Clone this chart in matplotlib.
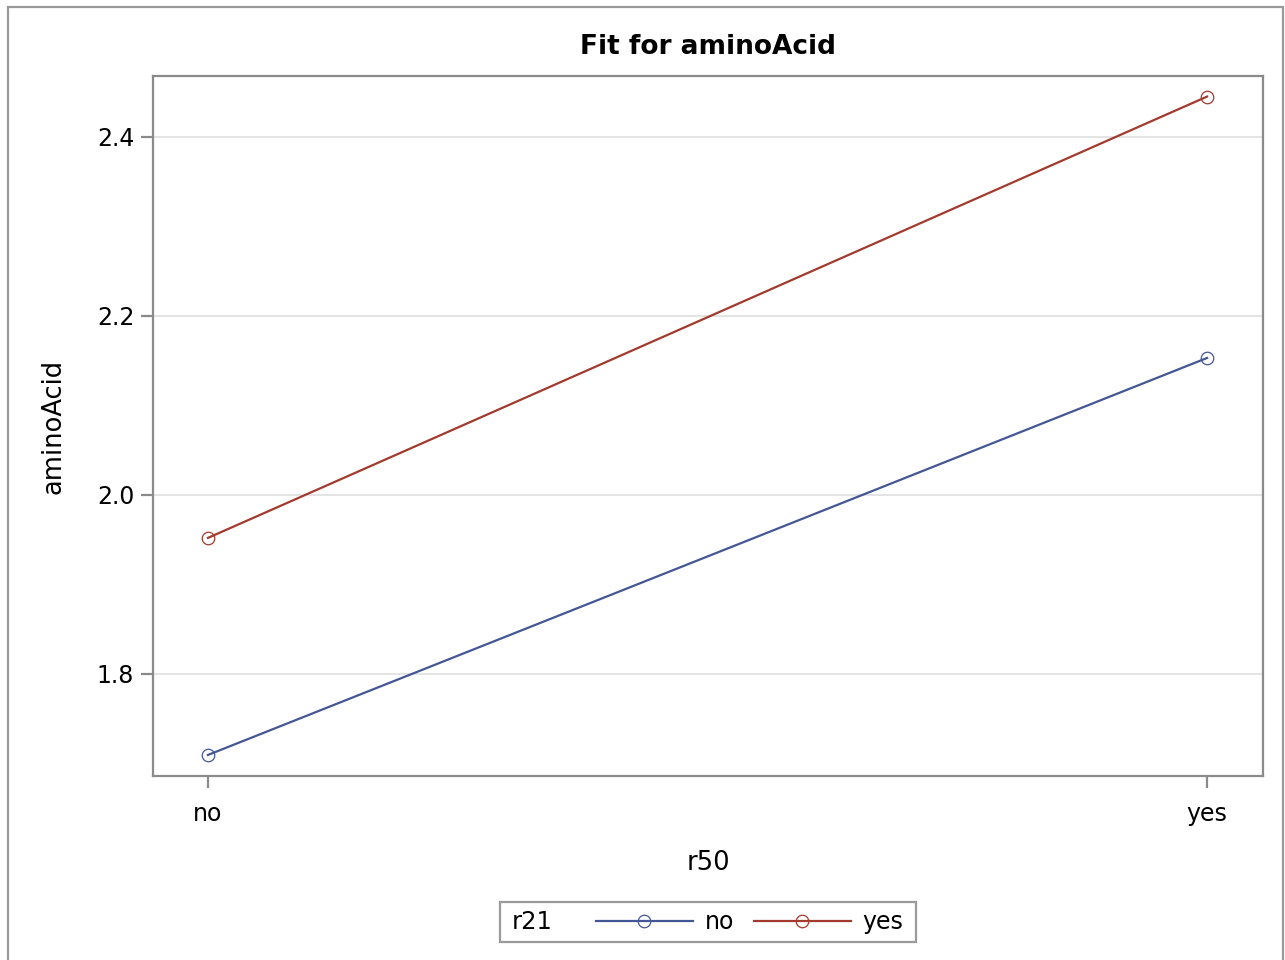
import matplotlib
matplotlib.use("Agg")
import matplotlib.pyplot as plt
from matplotlib.lines import Line2D
from matplotlib.patches import Rectangle

categories = ["no", "yes"]
series_names = ["no", "yes"]
values_no = [1.7095, 2.153]
values_yes = [1.952, 2.445]
yticks = [1.8, 2.0, 2.2, 2.4]
colors = ["#445694", "#A23A2E"]

W, H = 1285, 960
fig = plt.figure(figsize=(W / 100, H / 100), dpi=100)
plt.rcParams['font.family'] = ['DejaVu Sans']

# outer border
fig.patches.append(Rectangle((8 / W, -0.01), (1283 - 8) / W, 1 - 7 / H + 0.01,
                             transform=fig.transFigure, fill=False,
                             edgecolor="#9a9a9a", linewidth=1.6, clip_on=False))

ax = fig.add_axes([153 / W, 1 - 776 / H, (1263 - 153) / W, (776 - 76) / H])
x = list(range(len(categories)))
for vals, c, name in zip([values_no, values_yes], colors, series_names):
    ax.plot(x, vals, color=c, linewidth=1.6, marker="o", markersize=9,
            markerfacecolor="none", markeredgecolor=c, markeredgewidth=0.9,
            label=name, zorder=3)

ax.set_xlim(-0.055, 1.056)
ax.set_ylim(1.686, 2.468)
ax.set_xticks(x)
ax.set_xticklabels(categories)
ax.set_yticks(yticks)
ax.set_yticklabels([f"{v:.1f}" for v in yticks])
ax.grid(axis="y", color="#e4e4e4", linewidth=1.4, zorder=0)
ax.set_axisbelow(True)
for s in ax.spines.values():
    s.set_color("#8a8a8a")
    s.set_linewidth(1.6)
ax.tick_params(axis="both", length=8.5, width=1.6, color="#8a8a8a",
               labelsize=17, labelcolor="black", pad=5)
ax.tick_params(axis="x", pad=10)

ax.set_title("Fit for aminoAcid", fontsize=19, fontweight="bold", pad=15.5)
ax.set_xlabel("r50", fontsize=18.5, labelpad=17.5)
ax.set_ylabel("aminoAcid", fontsize=18.5, labelpad=22)

# legend
handles = [Line2D([], [], color=c, linewidth=1.6, marker="o", markersize=9,
                  markerfacecolor="none", markeredgecolor=c, markeredgewidth=0.9)
           for c in colors]
leg = fig.legend(handles, series_names, ncol=2, frameon=False,
                 loc="center left", bbox_to_anchor=(596 / W, 1 - 922 / H),
                 fontsize=17, handlelength=4.1, handletextpad=0.5,
                 columnspacing=0.85, borderpad=0.0, borderaxespad=0.0)
fig.text(512 / W, 1 - 922 / H, "r21", fontsize=17.5, ha="left", va="center")
fig.patches.append(Rectangle((500 / W, 1 - 942 / H), (916 - 500) / W, 40 / H,
                             transform=fig.transFigure, fill=False,
                             edgecolor="#9a9a9a", linewidth=1.6))

fig.savefig("out.png", dpi=100)
